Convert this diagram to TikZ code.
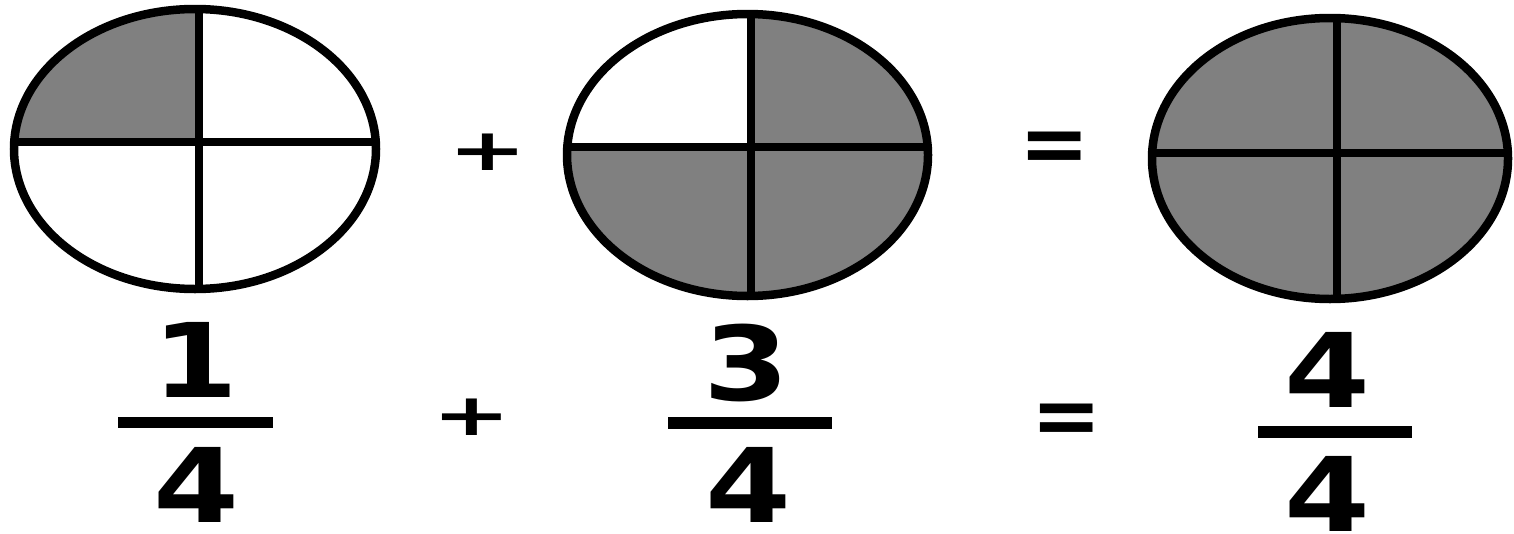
\documentclass[tikz,border=0pt]{standalone}
\usepackage{fontspec}
\usepackage{graphicx}
\newfontfamily\digfont{DejaVu Sans Bold}[FakeStretch=1.2]
\newfontfamily\symfont{DejaVu Sans Bold}
\definecolor{quartgray}{HTML}{808080}
\begin{document}
\begin{tikzpicture}[x=1pt,y=-1pt,
  outline/.style={line width=8.5pt},
  divider/.style={line width=8.5pt},
  quarter/.style={fill=quartgray},
  digit/.style={font=\digfont\fontsize{103}{103}\selectfont, inner sep=0pt},
  plussym/.style={font=\symfont\fontsize{94}{94}\selectfont, inner sep=0pt},
  eqsym/.style={font=\symfont\fontsize{84}{84}\selectfont, inner sep=0pt},
  fracbar/.style={line width=11.5pt}]
\useasboundingbox (0,0) rectangle (1514,533);
\fill[white] (0,0) rectangle (1514,533);

% ellipse 1: 1/4
\begin{scope}
  \clip (195,149) ellipse [x radius=181, y radius=140];
  \path[quarter] (0,0) rectangle (199,142);
  \draw[divider] (199,0) -- (199,300);
  \draw[divider] (0,142) -- (400,142);
\end{scope}
\draw[outline] (195,149) ellipse [x radius=181, y radius=140];

% ellipse 2: 3/4
\begin{scope}
  \clip (747.5,155) ellipse [x radius=180.5, y radius=141];
  \path[quarter] (751,0) rectangle (950,147);
  \path[quarter] (540,147) rectangle (950,310);
  \draw[divider] (751,0) -- (751,310);
  \draw[divider] (540,147) -- (950,147);
\end{scope}
\draw[outline] (747.5,155) ellipse [x radius=180.5, y radius=141];

% ellipse 3: 4/4
\begin{scope}
  \clip (1330,158.5) ellipse [x radius=178, y radius=140.5];
  \path[quarter] (1130,0) rectangle (1514,320);
  \draw[divider] (1337,0) -- (1337,320);
  \draw[divider] (1130,153) -- (1514,153);
\end{scope}
\draw[outline] (1330,158.5) ellipse [x radius=178, y radius=140.5];

% operators top
\node[plussym] (plusA) at (488,152) {\scalebox{1}[0.62]{+}};
\node[eqsym] (eqA) at (1055,152) {=};

% fractions
\node[digit] (n1) at (195,360) {1};
\coordinate (b1l) at (118,422.5);
\coordinate (b1r) at (273,422.5);
\draw[fracbar] (b1l) -- (b1r);
\node[digit] (d1) at (196.5,485) {4};

\node[plussym] (plusB) at (472,417) {\scalebox{1}[0.62]{+}};

\node[digit] (n2) at (746.5,362.5) {3};
\coordinate (b2l) at (668,423);
\coordinate (b2r) at (832,423);
\draw[fracbar] (b2l) -- (b2r);
\node[digit] (d2) at (748.5,485) {4};

\node[eqsym] (eqB) at (1067,424.5) {=};

\node[digit] (n3) at (1327.5,370) {4};
\coordinate (b3l) at (1258,432);
\coordinate (b3r) at (1412,432);
\draw[fracbar] (b3l) -- (b3r);
\node[digit] (d3) at (1327.5,493.5) {4};
\end{tikzpicture}
\end{document}
